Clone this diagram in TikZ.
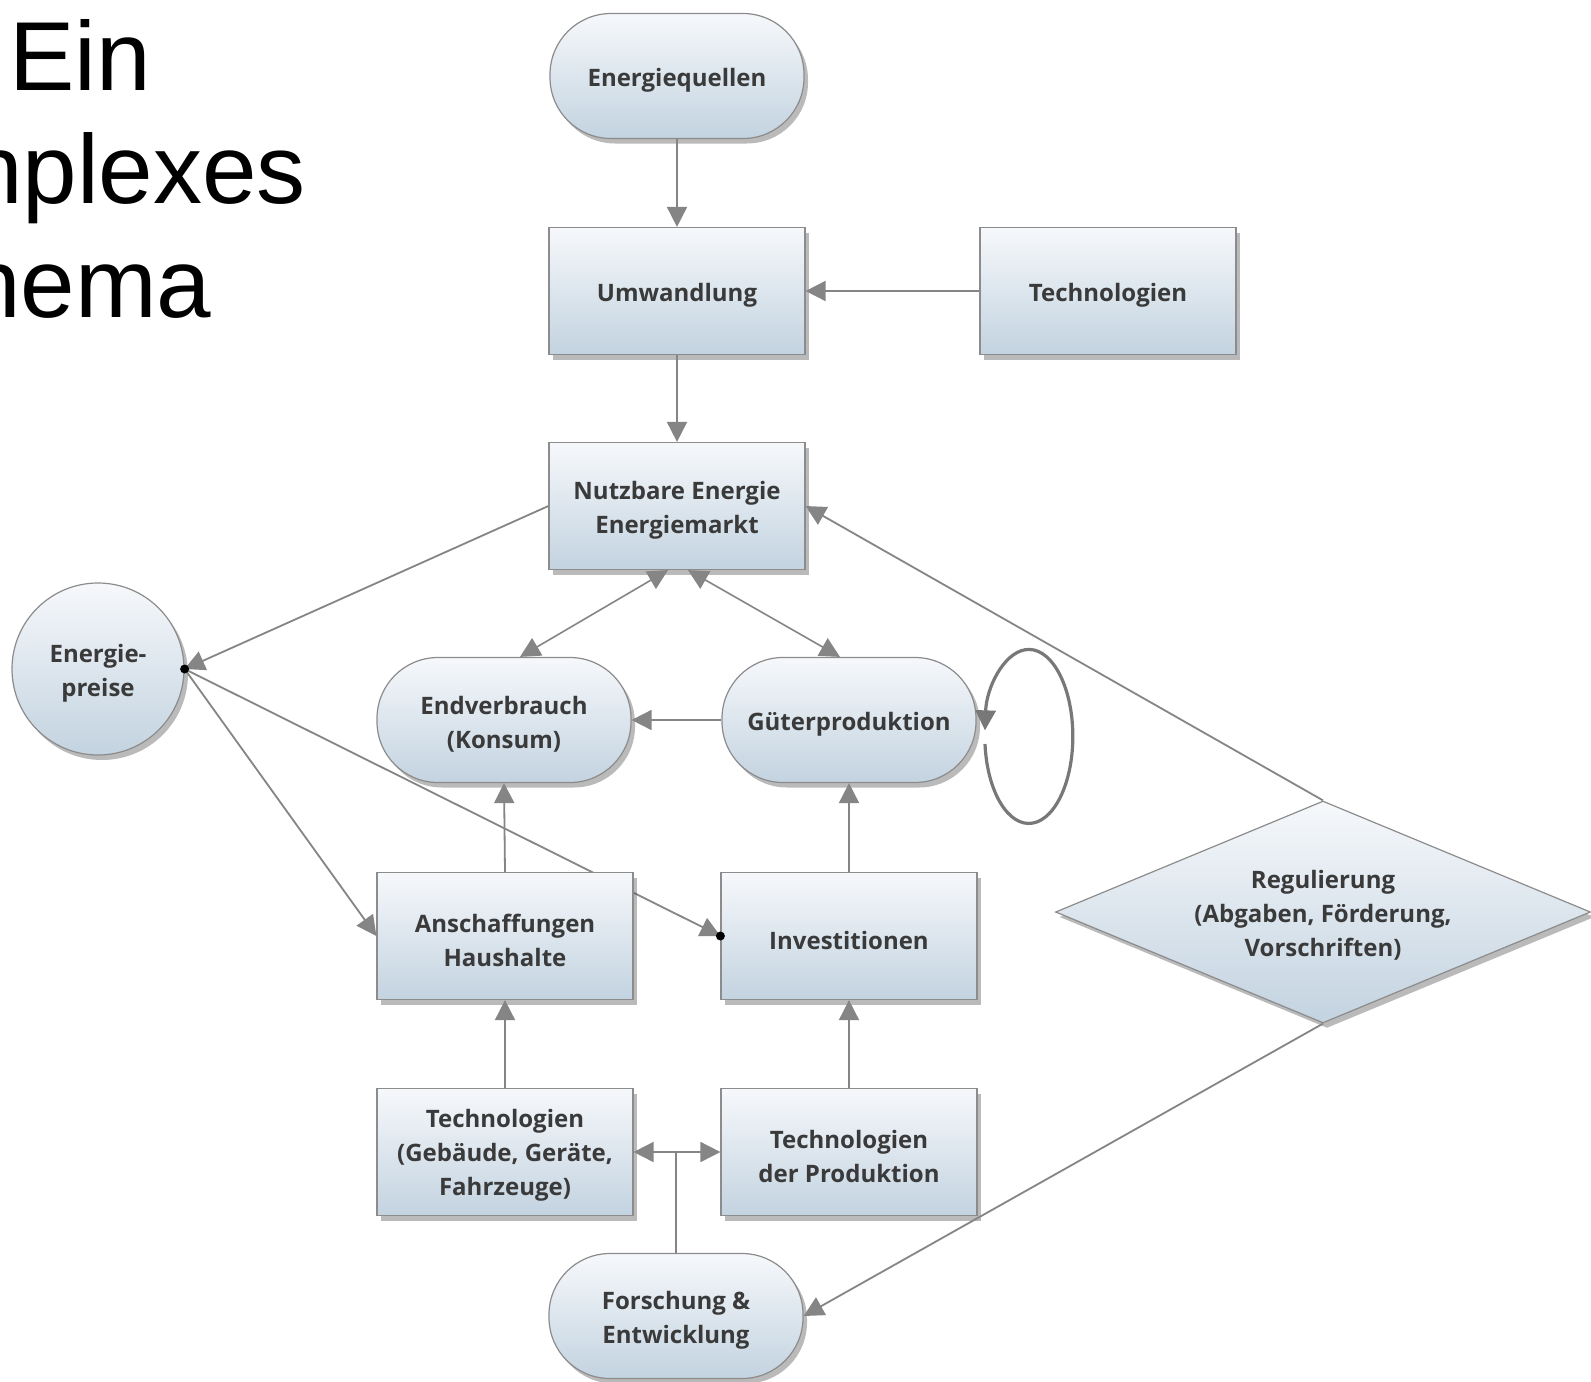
\documentclass[tikz,border=0pt]{standalone}
\usepackage{fontspec}
\setmainfont{Open Sans}
\newfontfamily\titlefont{Liberation Sans}
\usetikzlibrary{arrows.meta,shapes.geometric,shadows,calc}
\definecolor{boxtop}{HTML}{F6F8FB}
\definecolor{boxbot}{HTML}{C3D3E0}
\definecolor{edgegray}{HTML}{8C8C8C}
\definecolor{linegray}{HTML}{858585}
\definecolor{txt}{HTML}{3A3A3A}
\pgfdeclarelayer{background}
\pgfsetlayers{background,main}
\begin{document}
\begin{tikzpicture}[x=1pt,y=-1pt,
  base/.style={draw=edgegray, line width=1.2pt, top color=boxtop, bottom color=boxbot,
    inner sep=0pt,
    drop shadow={shadow xshift=4pt, shadow yshift=-5pt, opacity=0.38, fill=black!70}},
  lbl/.style={text=txt, font=\fontsize{24}{34}\selectfont\bfseries, align=center, inner sep=0pt},
  boxnode/.style={base, rectangle, minimum width=256pt, minimum height=127pt},
  pill/.style={base, rectangle, rounded corners=61pt, minimum width=254pt, minimum height=125pt},
  roundnode/.style={base, circle, minimum size=172pt},
  decision/.style={base, diamond, aspect=2.41, minimum width=535pt, minimum height=222pt},
  titletext/.style={anchor=base west, inner sep=0pt, text=black, font=\titlefont\fontsize{98}{98}\selectfont},
  arr/.style={draw=linegray, line width=1.8pt, -{Triangle[length=20pt,width=20pt]}},
  arrbi/.style={draw=linegray, line width=1.6pt, {Triangle[length=20pt,width=20pt]}-{Triangle[length=20pt,width=20pt]}},
  loopline/.style={draw=linegray!90!black, line width=3.2pt, -{Triangle[length=20pt,width=20pt]}},
]
\useasboundingbox (0,0) rectangle (1591,1382);
\clip (0,0) rectangle (1591,1382);

% title (cut off at the left edge, as in the picture)
\node[titletext] (t1) at (9,90) {Ein};
\node[titletext] (t2) at (-32,203) {nplexes};
\node[titletext] (t3) at (-34,317) {hema};

% shapes
\node[pill] (eq) at (677,76) {};
\node[boxnode] (um) at (677,291) {};
\node[boxnode] (tech) at (1108,291) {};
\node[boxnode] (nutz) at (677,506) {};
\node[roundnode] (preis) at (98,669) {};
\node[pill] (end) at (504,720) {};
\node[pill] (gut) at (849,720) {};
\node[boxnode] (ansch) at (505,936) {};
\node[boxnode] (inv) at (849,936) {};
\node[decision] (reg) at (1323,912) {};
\node[boxnode] (tg) at (505,1152) {};
\node[boxnode] (tp) at (849,1152) {};
\node[pill] (fe) at (676,1316) {};

% texts
\node[lbl] (eq-t) at ([yshift=-4pt]eq.center) {Energiequellen};
\node[lbl] (um-t) at ([yshift=-4pt]um.center) {Umwandlung};
\node[lbl] (tech-t) at ([yshift=-4pt]tech.center) {Technologien};
\node[lbl] (nutz-t) at ([yshift=-4pt]nutz.center) {Nutzbare Energie\\Energiemarkt};
\node[lbl] (preis-t) at ([yshift=-4pt]preis.center) {Energie-\\preise};
\node[lbl] (end-t) at ([yshift=-4pt]end.center) {Endverbrauch\\(Konsum)};
\node[lbl] (gut-t) at ([yshift=-4pt]gut.center) {Güterproduktion};
\node[lbl] (ansch-t) at ([yshift=-4pt]ansch.center) {Anschaffungen\\Haushalte};
\node[lbl] (inv-t) at ([yshift=-4pt]inv.center) {Investitionen};
\node[lbl] (reg-t) at ([yshift=-3pt]reg.center) {Regulierung\\(Abgaben, Förderung,\\Vorschriften)};
\node[lbl] (tg-t) at ([yshift=-3pt]tg.center) {Technologien\\(Gebäude, Geräte,\\Fahrzeuge)};
\node[lbl] (tp-t) at ([yshift=-4pt]tp.center) {Technologien\\der Produktion};
\node[lbl] (fe-t) at ([yshift=-4pt]fe.center) {Forschung \&\\Entwicklung};

% connectors
\draw[arr] (eq.south) -- (um.north);
\draw[arr] (tech.west) -- (um.east);
\draw[arr] (um.south) -- (nutz.north);
\draw[arr] (nutz.west) -- (preis.east);
\draw[arrbi] ([xshift=-9pt]nutz.south) -- ([xshift=16pt]end.north);
\draw[arrbi] ([xshift=11pt]nutz.south) -- ([xshift=-9pt]gut.north);
\draw[arr] (gut.west) -- (end.east);
\draw[arr] (ansch.north) -- (end.south);
\draw[arr] (inv.north) -- (gut.south);
\draw[arr] (tg.north) -- (ansch.south);
\draw[arr] (tp.north) -- (inv.south);
\draw[arr] (fe.north) |- (tg.east);
\draw[arr] (fe.north) |- (tp.west);
\draw[arr] (reg.south) -- (fe.east);
\draw[arr] (reg.north) -- (nutz.east);
\draw[arr] (preis.east) -- (ansch.west);
\coordinate (loopS) at (985,744);
\draw[loopline] (loopS) arc[start angle=185, end angle=536, x radius=44pt, y radius=87pt];

\begin{pgfonlayer}{background}
\fill[white] (0,0) rectangle (1591,1382);
\draw[arr] (preis.east) -- (inv.west);
\end{pgfonlayer}
\fill[black] (preis.east) circle[radius=4.5pt];
\fill[black] (inv.west) circle[radius=4.5pt];
\end{tikzpicture}
\end{document}
